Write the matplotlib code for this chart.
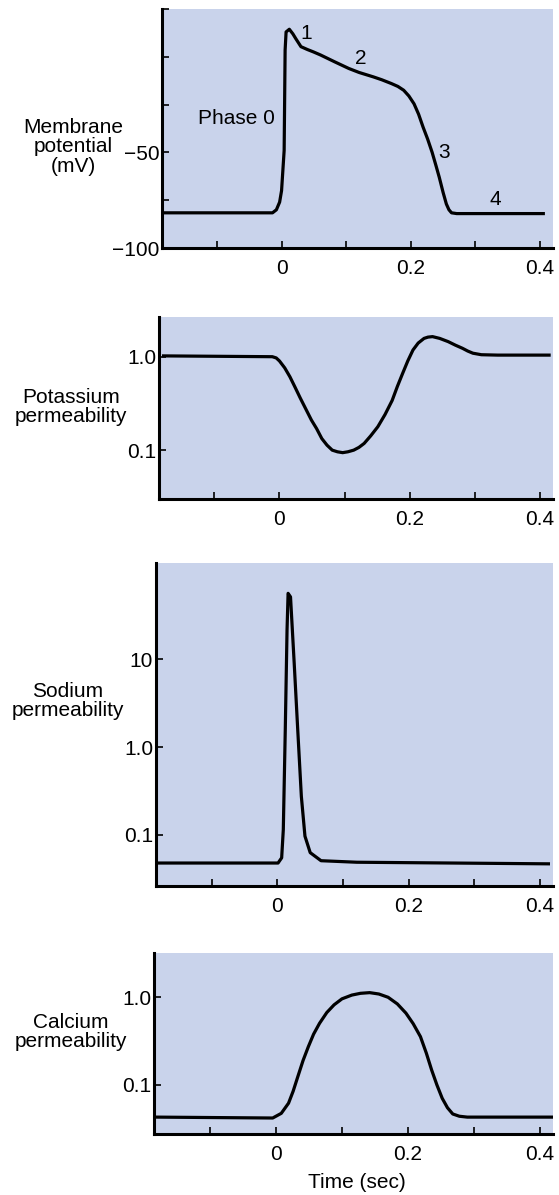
import matplotlib
matplotlib.use("Agg")
import matplotlib.pyplot as plt
from matplotlib.ticker import FixedLocator, NullLocator

plt.rcParams['font.family'] = ['Liberation Sans', 'DejaVu Sans']

###
### Data
###
# membrane potential (mV)
t_vm = [-0.18, -0.014, -0.008, -0.003, 0.0, 0.004, 0.0055, 0.007, 0.012, 0.0175,
        0.022, 0.03, 0.04, 0.049, 0.06, 0.082, 0.104, 0.12, 0.142, 0.155,
        0.17, 0.18, 0.189, 0.197, 0.205, 0.212, 0.219, 0.226, 0.233, 0.239,
        0.244, 0.25, 0.255, 0.259, 0.263, 0.271, 0.405]
vm = [-81.6, -81.6, -80, -76, -70, -49, 3.5, 13, 14.4, 12,
      9.5, 5.3, 3.8, 2.6, 1.0, -2.6, -6.1, -8.2, -10.5, -12,
      -14, -15.5, -17.5, -20.5, -24.6, -30, -36.8, -43, -50, -57,
      -63, -71, -77, -80, -81.6, -82, -82]

# potassium permeability
t_k = [-0.178, -0.011, -0.005, 0.0, 0.008, 0.016, 0.024, 0.032, 0.049, 0.057,
       0.065, 0.073, 0.081, 0.089, 0.097, 0.105, 0.114, 0.122, 0.13, 0.14,
       0.151, 0.162, 0.173, 0.181, 0.189, 0.197, 0.205, 0.213, 0.222, 0.228,
       0.235, 0.246, 0.259, 0.27, 0.281, 0.289, 0.297, 0.31, 0.335, 0.414]
p_k = [1.02, 1.0, 0.97, 0.9, 0.76, 0.61, 0.47, 0.36, 0.21, 0.17,
       0.133, 0.113, 0.10, 0.096, 0.094, 0.096, 0.10, 0.107, 0.118, 0.142,
       0.178, 0.24, 0.34, 0.48, 0.66, 0.9, 1.18, 1.4, 1.57, 1.62,
       1.64, 1.57, 1.45, 1.33, 1.23, 1.15, 1.09, 1.05, 1.04, 1.04]

# sodium permeability
t_na = [-0.184, 0.001, 0.0065, 0.009, 0.012, 0.0147, 0.0163, 0.020, 0.0256,
        0.031, 0.0365, 0.042, 0.05, 0.0665, 0.121, 0.413]
p_na = [0.048, 0.048, 0.055, 0.115, 1.57, 21.5, 56, 51, 9,
        1.57, 0.275, 0.097, 0.063, 0.051, 0.049, 0.047]

# calcium permeability
t_ca = [-0.181, -0.005, 0.008, 0.019, 0.026, 0.033, 0.041, 0.049, 0.057, 0.066,
        0.077, 0.088, 0.1, 0.115, 0.128, 0.142, 0.156, 0.17, 0.184, 0.197,
        0.208, 0.219, 0.228, 0.236, 0.244, 0.252, 0.26, 0.268, 0.278, 0.29,
        0.419]
p_ca = [0.043, 0.042, 0.0475, 0.062, 0.085, 0.124, 0.19, 0.273, 0.38, 0.505,
        0.67, 0.82, 0.96, 1.06, 1.11, 1.13, 1.09, 1.0, 0.84, 0.66,
        0.5, 0.356, 0.23, 0.148, 0.1, 0.0705, 0.055, 0.0467, 0.044, 0.043,
        0.043]

phase_labels = ["Phase 0", "1", "2", "3", "4"]
phase_t = [-0.07, 0.038, 0.123, 0.252, 0.33]
phase_v = [-32.5, 12, -1, -50, -74.6]

###
### Layout / style
###
W, H = 559, 1195
bg = '#c9d3eb'
fs = 15
xlim = (-0.185, 0.42)

panels = [
    {'box': (162, 9, 553, 248), 'y': t_vm, 'v': vm, 'log': False,
     'ylim': (-100, 25), 'yticks': [-100, -75, -50, -25, 0, 25],
     'ylabels': ['\u2212100', '', '\u221250', '', '', ''],
     'label': "Membrane\npotential\n(mV)", 'lab_xy': (73, 147)},
    {'box': (159, 317, 553, 499), 'y': t_k, 'v': p_k, 'log': True,
     'ylim': (0.03, 2.66), 'yticks': [0.1, 1.0], 'ylabels': ['0.1', '1.0'],
     'label': "Potassium\npermeability", 'lab_xy': (71, 407)},
    {'box': (156, 563, 553, 886), 'y': t_na, 'v': p_na, 'log': True,
     'ylim': (0.0263, 124), 'yticks': [0.1, 1.0, 10], 'ylabels': ['0.1', '1.0', '10'],
     'label': "Sodium\npermeability", 'lab_xy': (68, 701)},
    {'box': (154, 953, 553, 1134), 'y': t_ca, 'v': p_ca, 'log': True,
     'ylim': (0.0276, 3.2), 'yticks': [0.1, 1.0], 'ylabels': ['0.1', '1.0'],
     'label': "Calcium\npermeability", 'lab_xy': (71, 1032)},
]

fig = plt.figure(figsize=(W/100, H/100), dpi=100)

axs = []
for p in panels:
    x0, y0, x1, y1 = p['box']
    ax = fig.add_axes([x0/W, 1-y1/H, (x1-x0)/W, (y1-y0)/H])
    ax.set_facecolor(bg)
    ax.plot(p['y'], p['v'], color='black', lw=2.3, solid_joinstyle='round')
    if p['log']:
        ax.set_yscale('log')
    ax.set_ylim(*p['ylim'])
    ax.set_xlim(*xlim)
    ax.yaxis.set_major_locator(FixedLocator(p['yticks']))
    ax.yaxis.set_minor_locator(NullLocator())
    ax.set_yticklabels(p['ylabels'])
    ax.set_xticks([-0.1, 0, 0.1, 0.2, 0.3, 0.4])
    ax.set_xticklabels(['', '0', '', '0.2', '', '0.4'])
    ax.tick_params(direction='in', length=5, width=1.2, labelsize=fs,
                   color='black')
    ax.tick_params(axis='x', pad=8)
    ax.tick_params(axis='y', pad=2)
    for s in ['top', 'right']:
        ax.spines[s].set_visible(False)
    for s in ['left', 'bottom']:
        ax.spines[s].set_linewidth(2.2)
    fig.text(p['lab_xy'][0]/W, 1-p['lab_xy'][1]/H, p['label'],
             ha='center', va='center', fontsize=fs, linespacing=1.05)
    axs.append(ax)

for lab, t, v in zip(phase_labels, phase_t, phase_v):
    axs[0].text(t, v, lab, ha='center', va='center', fontsize=fs)

fig.text(357/W, 1-1183/H, "Time (sec)", ha='center', va='center', fontsize=fs)

fig.savefig("out.png", dpi=100)
